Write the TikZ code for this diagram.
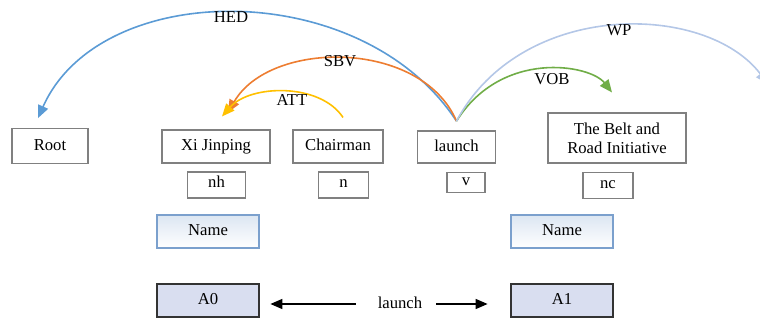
\documentclass[tikz,border=0pt]{standalone}
\usepackage{fontspec}
\setmainfont{Liberation Serif}
\usepackage{tikz}
\usetikzlibrary{arrows.meta}

\definecolor{hedc}{HTML}{5B9BD5}
\definecolor{sbvc}{HTML}{ED7D31}
\definecolor{attc}{HTML}{FFC000}
\definecolor{vobc}{HTML}{70AD47}
\definecolor{wpc}{HTML}{B4C7E7}
\definecolor{namec}{HTML}{DCE6F2}
\definecolor{namedraw}{HTML}{7BA0CD}
\definecolor{argc}{HTML}{D9DEF0}

\tikzset{
  word/.style={draw=black!50, line width=0.8pt, inner sep=0pt, align=center},
  oneline/.style={text height=0.65em, text depth=0pt},
  tag/.style={draw=black!50, line width=0.8pt, inner sep=0pt, text height=0.45em, text depth=0pt},
  namebox/.style={draw=namedraw, line width=1pt, inner sep=0pt, oneline, shading angle=135, top color=namec, bottom color=white, minimum width=76.5pt, minimum height=24.75pt},
  argbox/.style={draw=black!80, line width=1.1pt, fill=argc, inner sep=0pt, oneline, minimum width=76.5pt, minimum height=24.75pt},
  arc/.style={line width=1.2pt, -{Triangle[length=9.5pt,width=8pt]}},
  lbl/.style={inner sep=0pt}
}

\begin{document}
\begin{tikzpicture}[x=0.75pt, y=-0.75pt, font=\fontsize{12.5}{14}\selectfont]
    \useasboundingbox (0,0) rectangle (760,320);

    %palabras
    \node[word, oneline, minimum width=57pt, minimum height=26pt] (root) at (50,146) {Root};
    \node[word, oneline, minimum width=81pt, minimum height=24.75pt] (xi) at (216,146.5) {Xi Jinping};
    \node[word, oneline, minimum width=67.5pt, minimum height=24.75pt] (chair) at (338,146.5) {Chairman};
    \node[word, oneline, minimum width=59pt, minimum height=24pt] (launch) at (456.5,147) {launch};
    \node[word, minimum width=103.5pt, minimum height=37.5pt] (belt) at (617,138) {The Belt and\\Road Initiative};

    %etiquetas POS
    \node[tag, minimum width=44pt, minimum height=19.5pt] (nh) at (216.5,185) {nh};
    \node[tag, minimum width=38pt, minimum height=19.5pt] (n) at (343.5,185) {n};
    \node[tag, minimum width=28.5pt, minimum height=14.5pt] (v) at (466,182.5) {v};
    \node[tag, minimum width=37.5pt, minimum height=20pt] (nc) at (608,185.5) {nc};

    %entidades
    \node[namebox] (name1) at (208,231.5) {Name};
    \node[namebox] (name2) at (562,231.5) {Name};

    %argumentos
    \node[argbox] (a0) at (208,300.5) {A0};
    \node[argbox] (a1) at (562,300.5) {A1};
    \node[oneline] (verb) at (400,304) {launch};
    \draw[-{Triangle[length=9pt,width=7.5pt]}, line width=1.1pt, shorten <=13pt, shorten >=8pt] (verb.west) -- (a0.east |- verb.west);
    \draw[-{Triangle[length=9pt,width=7.5pt]}, line width=1.1pt, shorten <=7pt, shorten >=17pt] (verb.east) -- (a1.west |- verb.east);

    %arcos de dependencia
    \coordinate (wpend) at (768,84);
    \draw[arc, hedc] ([yshift=7pt]launch.north) .. controls +(-95,-145) and +(62,-140) .. ([xshift=-9pt,yshift=7.5pt]root.north);
    \draw[arc, sbvc] ([yshift=7pt]launch.north) .. controls +(-35,-82) and +(42,-73) .. ([xshift=9pt,yshift=12.75pt]xi.north);
    \draw[arc, attc] ([xshift=3.75pt,yshift=9pt]chair.north) .. controls +(-23,-35) and +(28,-32) .. ([xshift=4.5pt,yshift=9.75pt]xi.north);
    \draw[arc, vobc] ([yshift=7pt]launch.north) .. controls +(45,-72) and +(-22,-28) .. ([xshift=-3.75pt,yshift=15pt]belt.north);
    \draw[arc, wpc] ([yshift=7pt]launch.north) .. controls +(65,-122) and +(-62,-82) .. (wpend);

    %etiquetas de arcos
    \node[lbl] (hed) at (231,17) {HED};
    \node[lbl] (sbv) at (340,61) {SBV};
    \node[lbl] (att) at (292,100) {ATT};
    \node[lbl] (vob) at (552,79) {VOB};
    \node[lbl] (wp) at (619,30) {WP};
\end{tikzpicture}
\end{document}
